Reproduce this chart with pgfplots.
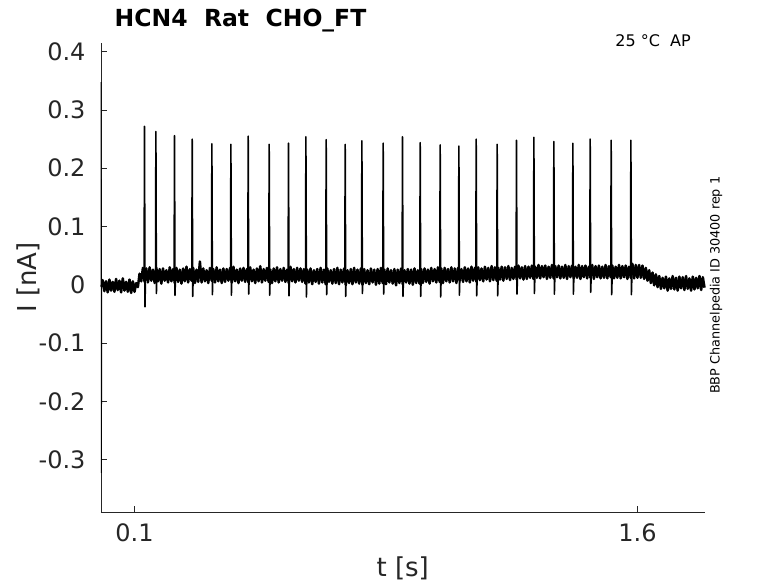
\documentclass[border=0pt]{standalone}
\usepackage{pgfplots}
\pgfplotsset{compat=1.18}
\usepackage{fontspec}
\setmainfont{DejaVu Sans}
\definecolor{axgray}{HTML}{262626}
\begin{document}
\begin{tikzpicture}
\path[use as bounding box] (-101pt,-71pt) rectangle (677pt,512pt);
\begin{axis}[
  scale only axis, width=603.5pt, height=469pt,
  at={(0pt,0pt)}, anchor=south west,
  xmin=0, xmax=1.8, ymin=-0.39, ymax=0.415,
  axis lines*=left, axis line style={-, draw=axgray, line width=0.6pt},
  tick align=inside, major tick length=6pt,
  tick style={draw=axgray, line width=0.5pt},
  xtick={0.1,1.6}, xticklabels={0.1,1.6},
  ytick={-0.3,-0.2,-0.1,0,0.1,0.2,0.3,0.4},
  yticklabels={-0.3,-0.2,-0.1,0,0.1,0.2,0.3,0.4},
  ticklabel style={font=\fontsize{24}{28}\selectfont, text=axgray},
  xticklabel style={yshift=-8pt},
  yticklabel style={xshift=-12pt},
  xlabel={t [s]}, ylabel={I [nA]},
  label style={font=\fontsize{26}{31}\selectfont, text=axgray},
  xlabel style={at={(axis description cs:0.5,-0.1195)}, anchor=center},
  ylabel style={at={(axis description cs:-0.1209,0.5)}, anchor=center},
  title={HCN4\ \ Rat\ \ CHO\_FT},
  title style={at={(axis description cs:0.0169,1.0527)}, anchor=west, yshift=-8pt, font=\fontsize{23.5}{28}\selectfont\bfseries},
  clip=false,
  unbounded coords=jump,
]
% capacitive transient at t = 0
\addplot[black, line width=1pt] coordinates {
(0.000,-0.003)(0.0006,0.348)(0.0012,-0.323)(0.002,-0.002)(0.003,-0.004)
};
% baseline trace
\addplot[black, line width=2.5pt, line join=round] coordinates {
(0.003,-0.004)(0.005,0.008)(0.010,-0.011)(0.015,0.006)(0.020,-0.013)(0.025,0.009)(0.030,-0.010)(0.035,0.005)(0.040,-0.012)(0.045,0.010)(0.050,-0.009)(0.055,0.007)(0.060,-0.013)(0.065,0.011)(0.070,-0.010)(0.075,0.005)(0.080,-0.012)(0.085,0.009)(0.090,-0.014)(0.095,0.006)(0.100,-0.012)
(0.105,0.003)(0.110,-0.004)(0.115,0.019)(0.120,0.006)(0.125,0.029)
(0.130,0.005)(0.135,0.028)(0.140,0.004)(0.145,0.030)(0.150,0.007)(0.155,0.026)(0.160,0.003)(0.165,0.029)(0.170,0.006)(0.175,0.027)
(0.180,0.002)(0.185,0.028)(0.190,0.007)(0.195,0.025)(0.200,0.004)(0.205,0.030)(0.210,0.006)(0.215,0.027)(0.220,0.003)(0.225,0.029)
(0.230,0.005)(0.235,0.026)(0.240,0.002)(0.245,0.028)(0.250,0.006)(0.255,0.031)(0.260,0.004)(0.265,0.027)(0.270,0.007)(0.275,0.029)
(0.280,0.003)(0.285,0.026)(0.290,0.005)(0.295,0.040)(0.300,0.004)(0.305,0.028)(0.310,0.006)(0.315,0.025)(0.320,0.003)(0.325,0.029)
(0.330,0.007)(0.335,0.027)(0.340,0.004)(0.345,0.030)(0.350,0.006)(0.355,0.026)(0.360,0.003)(0.365,0.028)(0.370,0.005)(0.375,0.027)
(0.380,0.007)(0.385,0.029)(0.390,0.004)(0.395,0.031)(0.400,0.006)(0.405,0.026)(0.410,0.003)(0.415,0.028)(0.420,0.007)(0.425,0.029)
(0.430,0.005)(0.435,0.027)(0.440,0.004)(0.445,0.030)(0.450,0.006)(0.455,0.026)(0.460,0.003)(0.465,0.028)(0.470,0.006)(0.475,0.032)
(0.480,0.004)(0.485,0.027)(0.490,0.007)(0.495,0.029)(0.500,0.005)(0.505,0.026)(0.510,0.003)(0.515,0.028)(0.520,0.006)(0.525,0.030)
(0.530,0.004)(0.535,0.027)(0.540,0.007)(0.545,0.029)(0.550,0.005)(0.555,0.026)(0.560,0.003)(0.565,0.031)(0.570,0.006)(0.575,0.027)
(0.580,0.004)(0.585,0.029)(0.590,0.007)(0.595,0.028)(0.600,0.005)
(0.605,0.027)(0.610,0.002)(0.615,0.026)(0.620,0.004)(0.625,0.028)(0.630,0.001)(0.635,0.025)(0.640,0.005)(0.645,0.027)(0.650,0.002)
(0.655,0.029)(0.660,0.004)(0.665,0.026)(0.670,0.001)(0.675,0.028)(0.680,0.005)(0.685,0.025)(0.690,0.002)(0.695,0.027)(0.700,0.003)
(0.705,0.029)(0.710,0.001)(0.715,0.026)(0.720,0.004)(0.725,0.028)(0.730,0.000)(0.735,0.025)(0.740,0.003)(0.745,0.027)(0.750,0.001)
(0.755,0.029)(0.760,0.004)(0.765,0.026)(0.770,0.002)(0.775,0.028)(0.780,0.000)(0.785,0.027)(0.790,0.003)(0.795,0.025)(0.800,0.001)
(0.805,0.028)(0.810,0.004)(0.815,0.026)(0.820,0.000)(0.825,0.027)(0.830,0.002)(0.835,0.029)(0.840,0.003)(0.845,0.026)(0.850,0.001)
(0.855,0.028)(0.860,0.004)(0.865,0.025)(0.870,0.002)(0.875,0.027)(0.880,-0.001)(0.885,0.026)(0.890,0.003)(0.895,0.028)(0.900,0.001)
(0.905,0.025)(0.910,0.004)(0.915,0.027)(0.920,0.002)(0.925,0.026)(0.930,0.000)(0.935,0.028)(0.940,0.003)(0.945,0.025)(0.950,0.002)
(0.955,0.027)(0.960,0.003)(0.965,0.028)(0.970,0.005)(0.975,0.026)(0.980,0.002)(0.985,0.029)(0.990,0.006)(0.995,0.027)(1.000,0.004)
(1.005,0.030)(1.010,0.005)(1.015,0.028)(1.020,0.003)(1.025,0.029)(1.030,0.006)(1.035,0.027)(1.040,0.004)(1.045,0.030)(1.050,0.006)
(1.055,0.028)(1.060,0.003)(1.065,0.029)(1.070,0.007)(1.075,0.027)(1.080,0.005)(1.085,0.030)(1.090,0.006)(1.095,0.028)(1.100,0.004)
(1.105,0.031)(1.110,0.007)(1.115,0.029)(1.120,0.005)(1.125,0.030)(1.130,0.008)(1.135,0.028)(1.140,0.006)(1.145,0.031)(1.150,0.009)
(1.155,0.029)(1.160,0.006)(1.165,0.032)(1.170,0.008)(1.175,0.030)(1.180,0.007)(1.185,0.029)(1.190,0.009)(1.195,0.031)(1.200,0.007)
(1.205,0.030)(1.210,0.010)(1.215,0.032)(1.220,0.008)(1.225,0.029)(1.230,0.010)(1.235,0.031)(1.240,0.009)(1.245,0.033)(1.250,0.011)
(1.255,0.030)(1.260,0.009)(1.265,0.032)(1.270,0.010)(1.275,0.031)(1.280,0.012)(1.285,0.033)(1.290,0.010)(1.295,0.031)(1.300,0.012)
(1.305,0.034)(1.310,0.011)(1.315,0.032)(1.320,0.013)(1.325,0.033)(1.330,0.010)(1.335,0.031)(1.340,0.012)(1.345,0.034)(1.350,0.011)
(1.355,0.032)(1.360,0.013)(1.365,0.033)(1.370,0.011)(1.375,0.031)(1.380,0.012)(1.385,0.034)(1.390,0.010)(1.395,0.032)(1.400,0.013)
(1.405,0.033)(1.410,0.011)(1.415,0.031)(1.420,0.012)(1.425,0.034)(1.430,0.010)(1.435,0.032)(1.440,0.013)(1.445,0.033)(1.450,0.011)
(1.455,0.031)(1.460,0.012)(1.465,0.034)(1.470,0.010)(1.475,0.032)(1.480,0.013)(1.485,0.033)(1.490,0.011)(1.495,0.031)(1.500,0.012)
(1.505,0.034)(1.510,0.011)(1.515,0.032)(1.520,0.013)(1.525,0.033)(1.530,0.011)(1.535,0.031)(1.540,0.012)(1.545,0.034)(1.550,0.011)
(1.555,0.032)(1.560,0.013)(1.565,0.033)(1.570,0.010)(1.575,0.031)(1.580,0.012)(1.585,0.036)(1.590,0.011)(1.595,0.034)(1.600,0.012)
(1.605,0.034)(1.610,0.012)(1.615,0.033)(1.620,0.010)(1.625,0.029)(1.630,0.007)(1.635,0.025)(1.640,0.003)(1.645,0.021)(1.650,-0.001)
(1.655,0.018)(1.660,-0.004)(1.665,0.015)(1.670,-0.007)(1.675,0.012)(1.680,-0.006)(1.685,0.014)(1.690,-0.010)(1.695,0.011)(1.700,-0.007)
(1.705,0.015)(1.710,-0.008)(1.715,0.012)(1.720,-0.010)(1.725,0.014)(1.730,-0.006)(1.735,0.013)(1.740,-0.009)(1.745,0.015)(1.750,-0.007)
(1.755,0.011)(1.760,-0.010)(1.765,0.014)(1.770,-0.008)(1.775,0.012)(1.780,-0.006)(1.785,0.015)(1.790,-0.009)(1.795,0.013)(1.800,-0.005)
};
% action potential spikes
\addplot[black, line width=1.6pt, line join=round] coordinates {
(0.1287,0.020)(0.1297,0.272)(0.1312,-0.038)(0.1327,0.015)(0.1327,nan)
(0.1627,0.020)(0.1637,0.263)(0.1652,-0.015)(0.1667,0.015)(0.1667,nan)
(0.2182,0.020)(0.2192,0.256)(0.2207,-0.018)(0.2222,0.015)(0.2222,nan)
(0.2710,0.020)(0.2720,0.250)(0.2735,-0.020)(0.2750,0.015)(0.2750,nan)
(0.3297,0.020)(0.3307,0.242)(0.3322,-0.017)(0.3337,0.015)(0.3337,nan)
(0.3864,0.020)(0.3874,0.241)(0.3889,-0.018)(0.3904,0.015)(0.3904,nan)
(0.4380,0.020)(0.4390,0.255)(0.4405,-0.016)(0.4420,0.015)(0.4420,nan)
(0.5006,0.020)(0.5016,0.241)(0.5031,-0.018)(0.5046,0.015)(0.5046,nan)
(0.5582,0.020)(0.5592,0.243)(0.5607,-0.019)(0.5622,0.015)(0.5622,nan)
(0.6101,0.020)(0.6111,0.254)(0.6126,-0.021)(0.6141,0.015)(0.6141,nan)
(0.6706,0.020)(0.6716,0.249)(0.6731,-0.017)(0.6746,0.015)(0.6746,nan)
(0.7273,0.020)(0.7283,0.241)(0.7298,-0.020)(0.7313,0.015)(0.7313,nan)
(0.7771,0.020)(0.7781,0.247)(0.7796,-0.015)(0.7811,0.015)(0.7811,nan)
(0.8406,0.020)(0.8416,0.243)(0.8431,-0.016)(0.8446,0.015)(0.8446,nan)
(0.8982,0.020)(0.8992,0.254)(0.9007,-0.020)(0.9022,0.015)(0.9022,nan)
(0.9510,0.020)(0.9520,0.244)(0.9535,-0.020)(0.9550,0.015)(0.9550,nan)
(1.0106,0.020)(1.0116,0.240)(1.0131,-0.021)(1.0146,0.015)(1.0146,nan)
(1.0664,0.020)(1.0674,0.238)(1.0689,-0.018)(1.0704,0.015)(1.0704,nan)
(1.1180,0.020)(1.1190,0.250)(1.1205,-0.019)(1.1220,0.015)(1.1220,nan)
(1.1806,0.020)(1.1816,0.241)(1.1831,-0.019)(1.1846,0.015)(1.1846,nan)
(1.2382,0.020)(1.2392,0.248)(1.2407,-0.016)(1.2422,0.015)(1.2422,nan)
(1.2901,0.020)(1.2911,0.253)(1.2926,-0.015)(1.2941,0.015)(1.2941,nan)
(1.3497,0.020)(1.3507,0.246)(1.3522,-0.016)(1.3537,0.015)(1.3537,nan)
(1.4064,0.020)(1.4074,0.243)(1.4089,-0.016)(1.4104,0.015)(1.4104,nan)
(1.4580,0.020)(1.4590,0.250)(1.4605,-0.013)(1.4620,0.015)(1.4620,nan)
(1.5206,0.020)(1.5216,0.248)(1.5231,-0.017)(1.5246,0.015)(1.5246,nan)
(1.5794,0.020)(1.5804,0.248)(1.5819,-0.017)(1.5834,0.015)
};
\node[anchor=east, font=\fontsize{16}{19}\selectfont, text=black] at (rel axis cs:0.983,1.004) {25 °C\ \ AP};
\node[rotate=90, font=\fontsize{12.8}{15}\selectfont, text=black] at (rel axis cs:1.019,0.4834) {BBP Channelpedia ID 30400 rep 1};
\end{axis}
\end{tikzpicture}
\end{document}
